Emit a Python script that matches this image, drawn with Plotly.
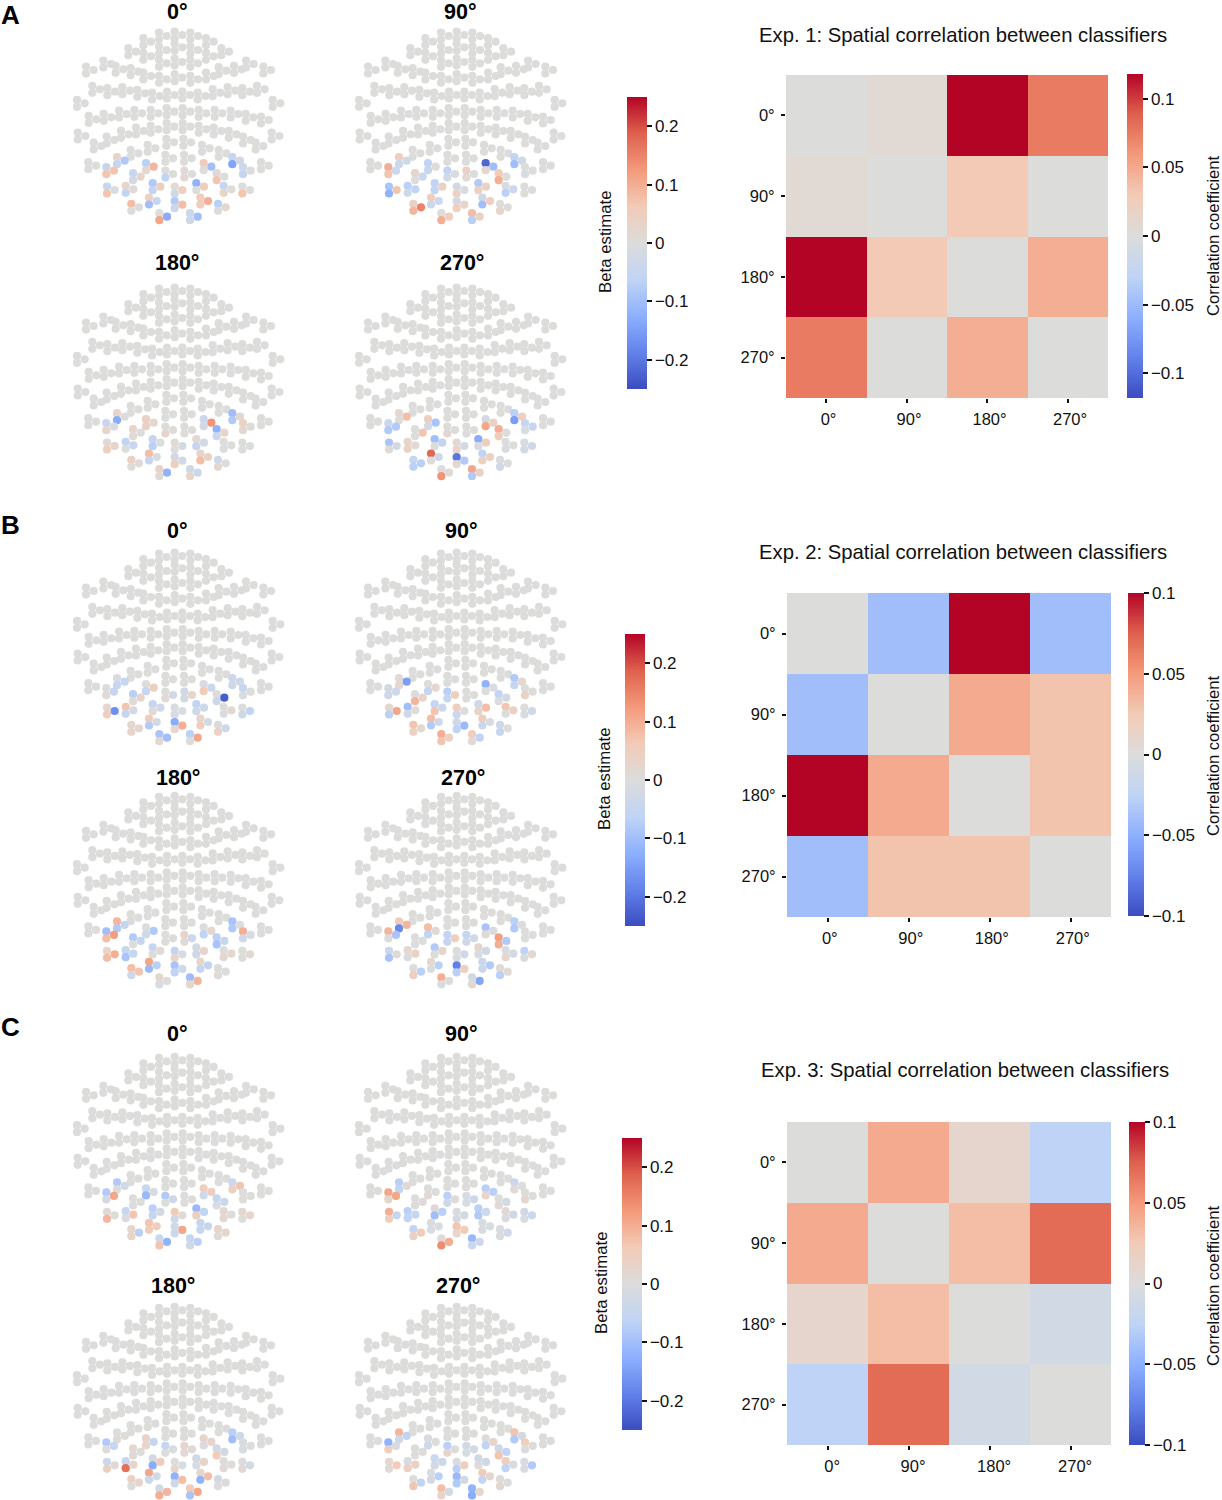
import plotly.graph_objects as go

W, H = 1222, 1500
FONT = "Liberation Sans"
COOLWARM = [[0.0, "#3b4cc0"], [0.125, "#6282ea"], [0.25, "#8db0fe"], [0.375, "#c0d4f5"], [0.5, "#dcdcdb"],
            [0.625, "#f2cbb7"], [0.75, "#f49a7b"], [0.875, "#de614d"], [1.0, "#b40426"]]

# Sensor triplet sites of the head layout: sensors drawn grey in every panel
grey_x = [297,344,391,250,438,297,344,391,250,438,205,484,297,344,391,130,558,78,610,167,522,212,476,250,438,
          297,344,391,97,142,187,232,276,321,367,413,458,503,547,591,51,638,
          86,131,177,223,272,320,368,416,464,512,557,603,53,635,
          140,183,228,272,320,368,416,461,506,549,101,587,319,370,263,426,212,476,316,372,85,603]
grey_y = [108,105,108,125,125,150,142,150,169,169,155,155,190,186,190,192,192,210,210,208,208,215,212,228,228,
          238,233,238,268,275,272,280,288,285,285,288,278,272,275,268,310,310,
          358,352,342,340,340,335,335,340,340,342,352,360,408,408,
          420,403,393,388,380,380,388,393,403,420,438,438,427,427,445,445,460,460,475,475,497,497]

# Sensor triplet sites that carry beta values (order matches the panel lists below)
site_x = [171,139,258,219,316,373,431,470,517,549,141,197,278,344,409,491,547,214,267,344,421,474,298,390]
site_y = [482,512,500,530,522,522,500,530,482,512,570,568,560,570,560,568,570,622,603,614,603,622,650,650]

# Beta estimates per triplet: upper, lower, side sensor
a_0 = [.03,-.05,-.08, -.05,.07,.07, -.07,.02,.09, -.05,-.02,.03, 0,-.06,0, .01,.01,0, .06,0,-.1, .01,.07,0,
       -.05,-.14,-.03, -.03,-.05,0, -.05,.07,-.01, .03,-.06,.01, -.08,-.06,.05, .01,-.03,.05, -.12,0,.05, -.05,.03,0,
       0,.07,0, .08,0,0, .04,-.1,-.05, -.08,-.04,.08, .06,.05,.1, -.07,0,.02, 0,.11,-.13, -.04,-.03,-.1]
a_90 = [.05,-.04,-.03, .1,.07,-.04, -.06,-.05,0, .03,0,-.04, -.06,-.02,-.01, .04,.01,0, -.22,.02,-.1, .06,.1,0,
        -.06,-.1,-.03, 0,-.01,0, -.09,-.12,.07, -.07,-.03,-.06, -.06,-.06,.04, -.02,.04,-.01, -.08,.04,.04, -.01,-.07,-.04,
        0,0,0, .04,.09,.15, .05,-.04,-.04, -.02,.05,.03, -.03,-.1,.05, 0,.03,0, 0,.1,.05, .08,-.07,.04]
a_180 = [.03,-.13,0, -.05,.03,-.01, .04,.04,.02, .03,.01,0, 0,.03,0, 0,0,0, -.04,-.02,.13, -.12,-.04,.03,
         -.1,-.08,.02, .04,.02,0, .01,.05,.03, -.06,0,-.05, -.05,-.07,0, .01,0,-.02, .02,-.05,-.02, 0,0,0,
         0,0,0, .04,0,.01, .08,-.05,-.01, -.03,.05,-.02, .03,.08,.04, -.03,.02,0, .04,.01,-.12, -.03,.03,-.04]
a_270 = [.02,0,.08, -.04,-.08,-.08, .05,-.02,-.09, 0,0,.07, 0,.02,0, 0,0,0, -.02,.11,.04, .1,.06,0,
         -.07,-.15,.05, -.05,-.01,-.05, -.09,.01,-.02, .03,.04,.01, -.1,0,-.06, .01,.03,-.02, -.13,-.01,.05, 0,-.01,0,
         -.01,-.02,-.03, -.05,-.07,-.07, .18,0,-.03, -.2,.02,-.08, -.06,.04,.04, -.01,-.03,0, 0,.13,.01, .11,-.08,.04]
b_0 = [-.01,-.05,-.05, 0,.01,-.05, 0,-.05,.05, -.07,.01,.03, 0,.01,-.02, -.03,-.02,.03, -.01,.06,-.04, 0,-.04,-.23,
       -.04,-.03,-.03, -.05,-.01,0, .02,.05,-.17, .07,-.05,-.02, -.05,.01,-.03, -.01,-.01,-.01, -.06,-.03,-.03, 0,-.01,.02,
       0,-.03,-.06, .02,.03,.02, .06,-.08,-.02, -.13,.02,.1, .03,.05,-.02, -.01,.04,-.03, -.09,.02,-.1, -.07,0,.11]
b_90 = [.01,.02,-.15, -.02,-.03,-.03, 0,-.05,.02, 0,.09,.03, -.07,-.05,.05, 0,0,0, -.12,0,-.01, -.06,-.01,-.02,
        -.08,-.05,.02, 0,.04,0, .02,-.07,.11, -.1,-.03,0, -.05,.07,-.04, .05,-.04,0, -.03,.03,.08, .07,0,.04,
        0,-.01,-.03, .07,.04,.02, .08,-.08,-.03, -.03,-.06,-.11, .05,-.04,-.01, -.03,-.05,0, .1,.07,.04, .05,.01,-.06]
b_180 = [.09,-.08,-.05, -.1,.08,.12, 0,-.03,-.08, -.08,0,-.05, 0,0,0, .03,.01,-.04, 0,-.06,.02, -.07,-.09,-.05,
         -.09,-.08,0, .1,-.03,-.01, .03,.08,.1, -.05,-.09,-.05, -.05,0,.01, -.06,.03,-.01, -.02,-.03,.03, 0,.02,.02,
         0,0,.02, .08,-.03,.07, .11,-.11,-.07, -.09,-.06,-.03, .03,-.05,-.06, 0,.01,0, .02,-.01,0, -.1,.02,.09]
b_270 = [.06,-.18,.09, .09,0,-.09, .08,-.06,.01, 0,0,0, -.06,-.05,.05, -.05,-.03,-.03, -.09,.01,-.01, .12,.1,-.08,
         -.07,-.08,0, 0,0,0, -.04,-.09,.01, .02,-.01,.04, -.08,0,.03, 0,-.01,-.03, .03,-.01,-.03, -.01,.02,-.02,
         -.06,-.01,.02, 0,.05,-.07, .02,-.01,-.07, -.19,-.07,.05, -.04,-.04,-.08, .01,-.07,.01, .1,-.01,0, -.02,.02,-.14]
c_0 = [-.08,0,-.02, -.08,-.02,.11, -.04,-.11,-.01, 0,0,0, -.08,0,-.03, 0,0,0, .05,-.03,.05, -.05,-.01,-.04,
       -.04,.04,.07, 0,0,0, .01,.09,0, -.05,-.01,.07, -.07,-.05,-.02, .06,-.03,.01, -.11,.05,-.06, .02,.02,0,
       .02,0,.03, .03,.03,-.07, .07,.06,.05, -.03,-.04,.11, -.05,-.05,-.05, .03,.01,.02, -.04,.07,-.12, -.05,-.03,-.07]
c_90 = [-.07,-.06,.01, .11,.03,.11, 0,.01,0, 0,0,.01, -.07,-.03,.01, -.01,-.01,-.04, -.07,.03,-.07, 0,.01,-.02,
        -.04,.01,0, 0,.02,0, .1,.05,-.05, -.07,-.06,-.05, .01,-.1,-.07, -.01,-.02,-.02, -.07,-.08,-.04, .02,-.01,-.03,
        -.02,-.01,-.04, -.06,.04,.06, -.01,-.01,-.01, .07,.03,.06, -.01,-.01,-.01, -.01,-.01,-.03, .01,.14,.1, -.11,-.04,-.04]
c_180 = [0,.01,0, -.08,0,-.05, .03,.03,-.05, .02,.01,0, -.05,0,-.01, .03,.01,.01, .03,-.01,.03, -.02,.06,-.02,
         -.07,-.1,-.03, -.01,-.01,0, -.04,.05,.01, -.05,.17,.03, -.02,-.13,.06, 0,.03,-.01, -.03,-.01,.03, 0,.01,0,
         0,.01,-.02, .04,0,.03, .11,-.04,-.02, -.12,-.03,.08, .03,-.12,.08, -.02,0,0, -.02,.1,.09, .06,-.09,.11]
c_270 = [.09,-.03,-.06, -.12,.05,-.01, -.01,-.03,0, 0,0,0, -.07,.03,0, -.02,-.01,-.02, 0,-.06,.03, -.03,.07,-.06,
         .07,-.08,-.02, .05,0,0, .02,.01,.06, -.01,.04,.04, -.04,-.02,-.04, -.01,-.07,.05, -.03,.01,-.03, .05,-.06,-.01,
         -.01,-.01,-.08, 0,.07,-.06, -.01,-.02,-.07, -.11,-.08,-.02, .06,-.05,.03, 0,.02,0, .08,.03,-.02, -.12,-.13,.02]

angle_labels = ["0°", "90°", "180°", "270°"]

corr_a = [[0, .006, .118, .075], [.006, 0, .03, 0], [.118, .03, 0, .047], [.075, 0, .047, 0]]
corr_b = [[0, -.04, .1, -.04], [-.04, 0, .042, .029], [.1, .042, 0, .029], [-.04, .029, .029, 0]]
corr_c = [[0, .042, .01, -.026], [.042, 0, .032, .07], [.01, .032, 0, -.01], [-.026, .07, -.01, 0]]

panels = [
    (a_0, "0°", 0, 0, 177, 12), (a_90, "90°", 282, 0, 460, 12),
    (a_180, "180°", 0, 256, 177, 263), (a_270, "270°", 282, 256, 462, 263),
    (b_0, "0°", 0, 521, 177, 531), (b_90, "90°", 282, 521, 461, 531),
    (b_180, "180°", 0, 764.3, 178, 778), (b_270, "270°", 282, 764.3, 463, 778),
    (c_0, "0°", 0, 1025.3, 177, 1034), (c_90, "90°", 282, 1025.3, 461, 1034),
    (c_180, "180°", 0, 1275.3, 173, 1286), (c_270, "270°", 282, 1275.3, 458, 1286),
]
beta_bars = {0: (627, 97), 4: (625, 634), 8: (622, 1138)}
BETA_LABEL = [(605, 242), (604, 779), (601, 1283)]

heatmaps = [
    (corr_a, "Exp. 1: Spatial correlation between classifiers", 786, 75, 322, 323, 963, 35, 1127, 74, 324, .118, 1213, 236, 1),
    (corr_b, "Exp. 2: Spatial correlation between classifiers", 787, 593, 324, 324, 963, 552, 1128, 593, 323, .1, 1213, 756, 1),
    (corr_c, "Exp. 3: Spatial correlation between classifiers", 787, 1122, 324, 323, 965, 1070, 1129, 1122, 323, .1, 1213, 1286, 2),
]
letters = [("A", 10, 15), ("B", 10, 525), ("C", 10, 1027)]

def minus(v):
    return str(v).replace("-", "−")

all_x, all_y = [], []
for x, y in zip(grey_x, grey_y):
    all_x += [x, x, x + 23]
    all_y += [y - 10.5, y + 10.5, y]
n_grey = len(all_x)
for x, y in zip(site_x, site_y):
    all_x += [x, x, x + 23]
    all_y += [y - 10.5, y + 10.5, y]

fig = go.Figure()
layout = {}
annotations = []
n = 0
beta_ticks = [-.2, -.1, 0, .1, .2]
for i, (vals, title, dx, dy, tx, ty) in enumerate(panels):
    n += 1
    ax = "" if n == 1 else str(n)
    x0, y0 = 60 + dx, dy
    layout[f"xaxis{ax}"] = dict(domain=[x0 / W, (x0 + 240) / W], range=[0, 720], visible=False, anchor=f"y{ax}", fixedrange=True)
    layout[f"yaxis{ax}"] = dict(domain=[1 - (y0 + 224) / H, 1 - y0 / H], range=[672, 0], visible=False, anchor=f"x{ax}", fixedrange=True)
    marker = dict(color=[0] * n_grey + vals, cmin=-.25, cmax=.25, colorscale=COOLWARM, size=8.2, line=dict(width=0),
                  showscale=False)
    if i in beta_bars:
        bx, by = beta_bars[i]
        marker.update(showscale=True, colorbar=dict(
            x=bx / W, xanchor="left", xref="paper", y=1 - by / H, yanchor="top", yref="paper", len=292, lenmode="pixels",
            thickness=20, thicknessmode="pixels", xpad=0, ypad=0, outlinewidth=0, ticks="outside", ticklen=5, tickwidth=1.5,
            tickcolor="#111", tickvals=beta_ticks, ticktext=[minus(t) for t in beta_ticks],
            tickfont=dict(family=FONT, size=17, color="#111")))
    fig.add_trace(go.Scatter(x=all_x, y=all_y, mode="markers", marker=marker, xaxis=f"x{ax}", yaxis=f"y{ax}",
                             cliponaxis=False, hoverinfo="skip", showlegend=False))
    annotations.append(dict(x=tx / W, y=1 - ty / H, xref="paper", yref="paper", text=f"<b>{title}</b>", showarrow=False,
                            font=dict(family=FONT, size=21.5, color="black"), xanchor="center", yanchor="middle"))

for x, y in BETA_LABEL:
    annotations.append(dict(x=x / W, y=1 - y / H, xref="paper", yref="paper", text="Beta estimate", textangle=-90,
                            showarrow=False, font=dict(family=FONT, size=16.8, color="#111"), xanchor="center", yanchor="middle"))

corr_ticks = [-.1, -.05, 0, .05, .1]
for z, title, hx, hy, hw, hh, tx, ty, cx, cy, cl, zmax, lx, ly, pad in heatmaps:
    n += 1
    ax = str(n)
    layout[f"xaxis{ax}"] = dict(domain=[hx / W, (hx + hw) / W], anchor=f"y{ax}", tickmode="array", tickvals=[0, 1, 2, 3],
                                ticktext=["\u00a0" * pad + t for t in angle_labels], ticks="outside", ticklen=4, tickwidth=1.5,
                                tickcolor="#111", showline=False, showgrid=False, zeroline=False, range=[-.5, 3.5],
                                fixedrange=True, ticklabelstandoff=2, tickfont=dict(family=FONT, size=16.5, color="#111"))
    layout[f"yaxis{ax}"] = dict(domain=[1 - (hy + hh) / H, 1 - hy / H], anchor=f"x{ax}", tickmode="array", tickvals=[0, 1, 2, 3],
                                ticktext=angle_labels, ticks="outside", ticklen=4, tickwidth=1.5, tickcolor="#111",
                                showline=False, showgrid=False, zeroline=False, range=[3.5, -.5], fixedrange=True,
                                ticklabelstandoff=3, tickfont=dict(family=FONT, size=16.5, color="#111"))
    fig.add_trace(go.Heatmap(z=z, x=[0, 1, 2, 3], y=[0, 1, 2, 3], zmin=-zmax, zmax=zmax, colorscale=COOLWARM, xaxis=f"x{ax}",
                             yaxis=f"y{ax}", hoverinfo="skip", colorbar=dict(
        x=cx / W, xanchor="left", y=1 - cy / H, yanchor="top", len=cl, lenmode="pixels", thickness=16, thicknessmode="pixels",
        xpad=0, ypad=0, outlinewidth=0, ticks="outside", ticklen=5, tickwidth=1.5, tickcolor="#111",
        tickvals=corr_ticks, ticktext=[minus(t) for t in corr_ticks], tickfont=dict(family=FONT, size=17, color="#111"))))
    annotations.append(dict(x=tx / W, y=1 - ty / H, xref="paper", yref="paper", text=title, showarrow=False,
                            font=dict(family=FONT, size=20.3, color="#111"), xanchor="center", yanchor="middle"))
    annotations.append(dict(x=lx / W, y=1 - ly / H, xref="paper", yref="paper", text="Correlation coefficient", textangle=-90,
                            showarrow=False, font=dict(family=FONT, size=16.6, color="#111"), xanchor="center", yanchor="middle"))

for t, x, y in letters:
    annotations.append(dict(x=x / W, y=1 - y / H, xref="paper", yref="paper", text=f"<b>{t}</b>", showarrow=False,
                            font=dict(family=FONT, size=26, color="black"), xanchor="center", yanchor="middle"))

fig.update_layout(width=W, height=H, margin=dict(l=0, r=0, t=0, b=0), paper_bgcolor="white", plot_bgcolor="white",
                  showlegend=False, annotations=annotations, **layout)
fig.write_html("out.html", config={"displayModeBar": False},
               post_script="document.body.style.margin='0';document.body.style.overflow='hidden';")
